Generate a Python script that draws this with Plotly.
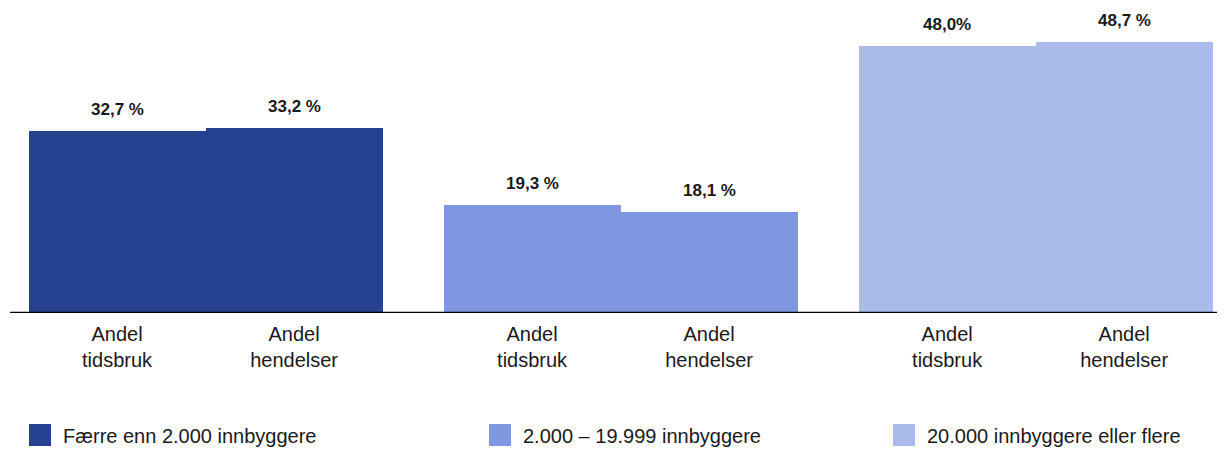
import plotly.graph_objects as go

groups = ["Færre enn 2.000 innbyggere", "2.000 – 19.999 innbyggere", "20.000 innbyggere eller flere"]
measures = ["Andel<br>tidsbruk", "Andel<br>hendelser"]
values_small = [32.7, 33.2]
values_medium = [19.3, 18.1]
values_large = [48.0, 48.7]
labels_small = ["32,7 %", "33,2 %"]
labels_medium = ["19,3 %", "18,1 %"]
labels_large = ["48,0%", "48,7 %"]
colors = ["#25418F", "#7E97E0", "#AABAEB"]

series_values = [values_small, values_medium, values_large]
series_labels = [labels_small, labels_medium, labels_large]

FONT = "Liberation Sans, Arial"
TXT = "#1a1a1a"
# page offset (html body margin) compensation
OFF = 8
W, H = 1225, 450
L, R, T, B = 2, 8, 12, 145
plot_w = W - L - R
plot_h = H - T - B
plot_bottom_page = OFF + H - B


def px_x(px):
    return (px - OFF - L) / plot_w


def px_y(py):
    return (plot_bottom_page - py) / plot_h


GROUP_STEP = 2.345
fig = go.Figure()
tickvals, ticktext = [], []
annotations = []
shapes = []
legend_swatch_x = [29, 489, 893]
SW = 22
for g, (name, vals, labs, col) in enumerate(zip(groups, series_values, series_labels, colors)):
    xs = [g * GROUP_STEP + j for j in range(len(vals))]
    tickvals += xs
    ticktext += measures
    fig.add_trace(go.Bar(x=xs, y=vals, name=name, marker=dict(color=col, line=dict(width=0)),
                         width=1.0, showlegend=False, hoverinfo="skip"))
    for x, v, t in zip(xs, vals, labs):
        annotations.append(dict(x=x, y=v, text=f"<b>{t}</b>", showarrow=False, yanchor="bottom",
                                yshift=10, font=dict(family=FONT, size=17, color=TXT)))
    # legend entry
    sx = legend_swatch_x[g]
    shapes.append(dict(type="rect", xref="paper", yref="paper",
                       x0=px_x(sx), x1=px_x(sx + SW), y0=px_y(446), y1=px_y(424),
                       fillcolor=col, line=dict(width=0)))
    annotations.append(dict(xref="paper", yref="paper", x=px_x(sx + SW + 10), y=px_y(436),
                            xanchor="left", yanchor="middle", showarrow=False, text=name,
                            font=dict(family=FONT, size=20, color=TXT)))

shapes.append(dict(type="line", xref="paper", yref="y", x0=0, x1=1, y0=0, y1=0,
                   line=dict(color="black", width=2.5), layer="above"))

fig.update_layout(
    width=W, height=H,
    margin=dict(l=L, r=R, t=T, b=B),
    plot_bgcolor="white", paper_bgcolor="white",
    bargap=0, barmode="overlay",
    showlegend=False,
    annotations=annotations,
    shapes=shapes,
    xaxis=dict(range=[-0.605, 6.26], tickvals=tickvals, ticktext=ticktext, showgrid=False,
               zeroline=False, showline=False, ticks="", ticklabelstandoff=7,
               tickfont=dict(family=FONT, size=20, color=TXT)),
    yaxis=dict(range=[0, 52.6], visible=False, showgrid=False, zeroline=False),
)

fig.write_html("out.html")
